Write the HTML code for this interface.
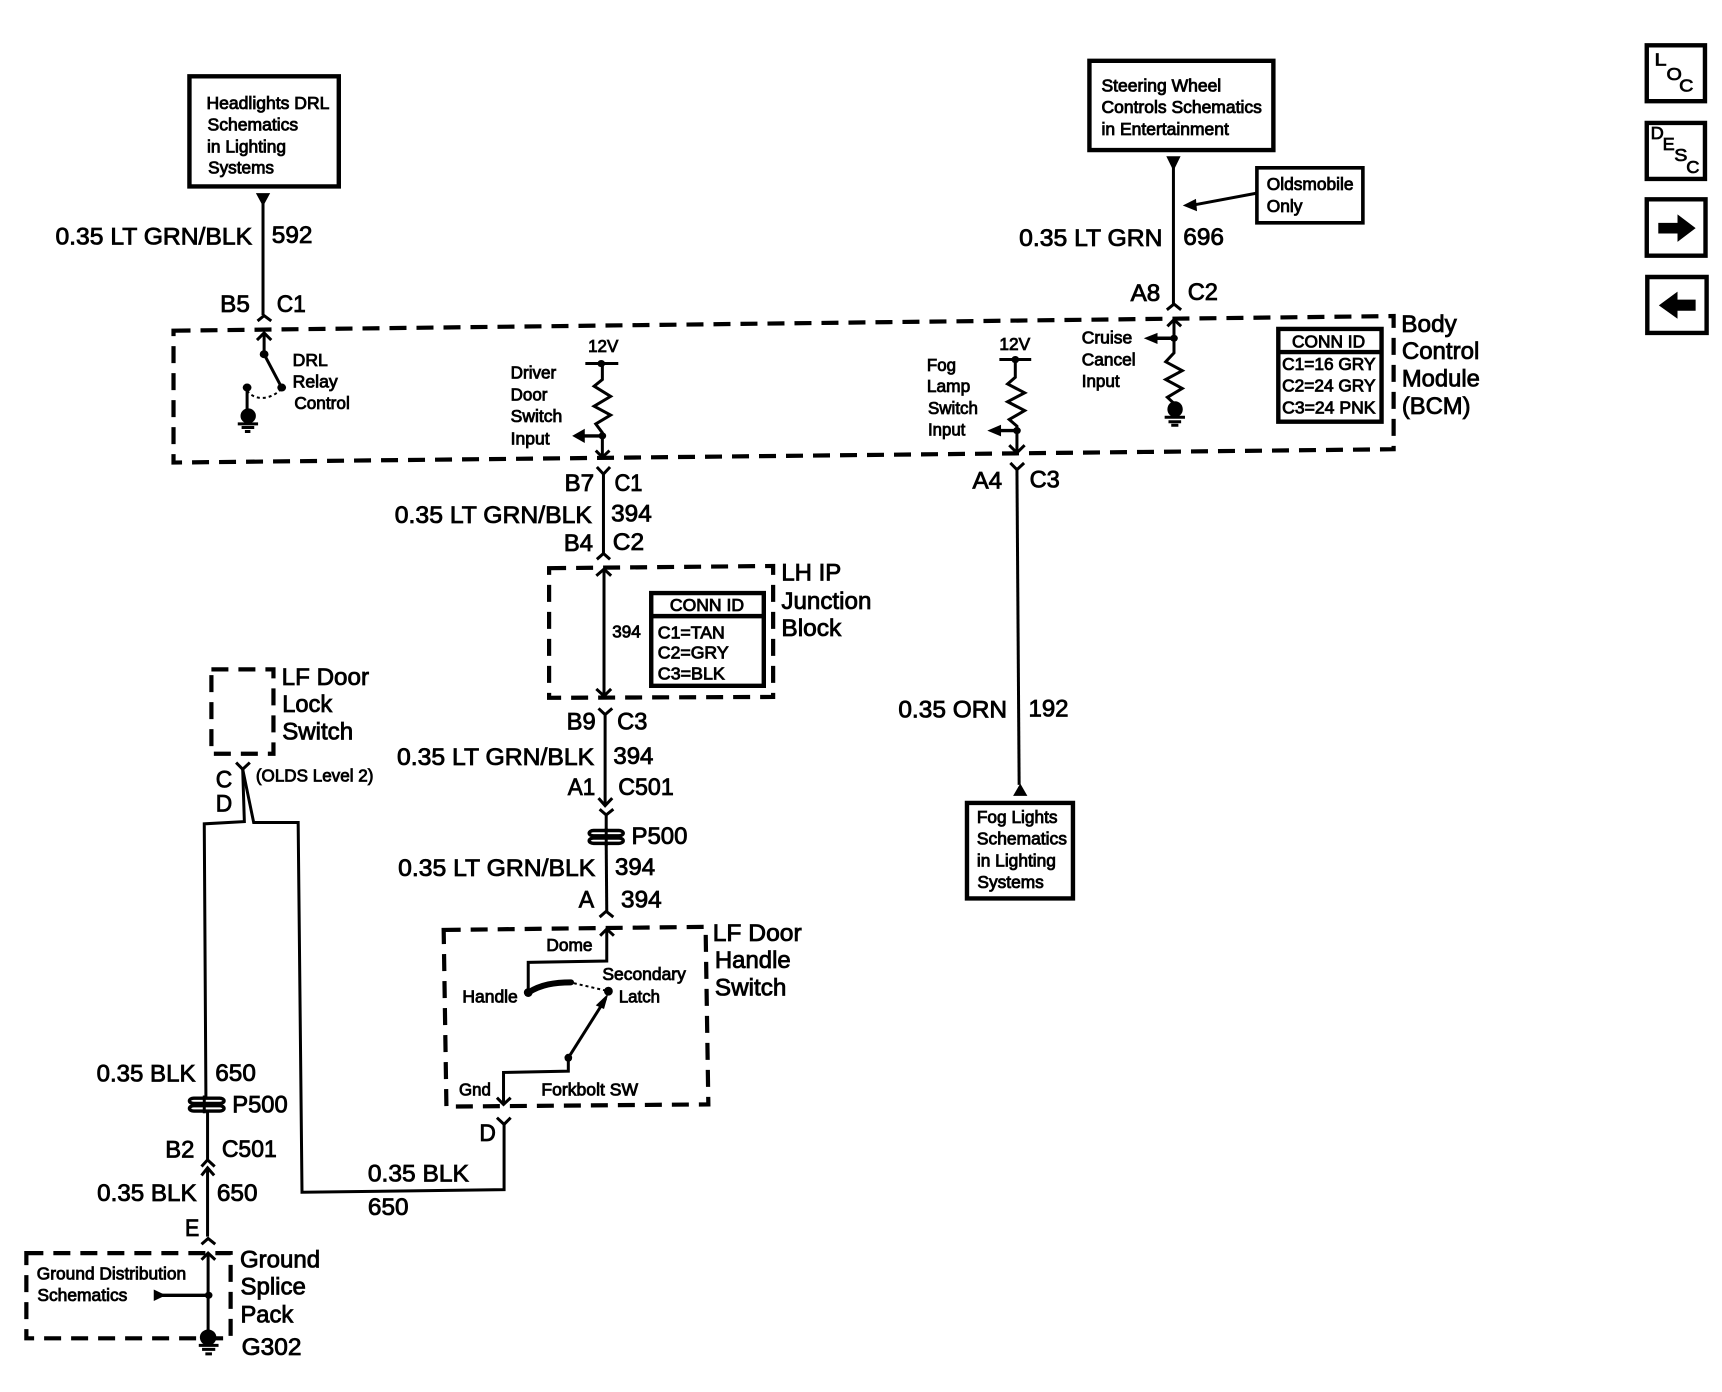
<!DOCTYPE html>
<html><head><meta charset="utf-8"><style>
html,body{margin:0;padding:0;background:#fff}
svg{display:block}
text{font-family:"Liberation Sans",sans-serif;fill:#000;stroke:#000;stroke-width:1.9px;transform:translateY(-2px)}
.l{font-size:55px}.m{font-size:39px}
path,rect,line,polyline{fill:none;stroke:#000;stroke-width:3px;vector-effect:non-scaling-stroke}
.b{stroke-width:4.4px}
.d{stroke-width:4.2px;stroke-dasharray:17 10}
.t{stroke-width:6px;stroke-linecap:round}
.o{stroke-width:2px;stroke-dasharray:3 3}
polygon,ellipse{fill:#000;stroke:none}
.w{fill:#fff;stroke:#000;stroke-width:3.4px;vector-effect:non-scaling-stroke}
</style></head><body>
<svg width="1722" height="1392" viewBox="0 0 1722 1392" xmlns="http://www.w3.org/2000/svg">
<rect x="0" y="0" width="1722" height="1392" style="fill:#fff;stroke:none"/>

<g transform="scale(.5491 .4439)">
<rect class="b" x="345" y="172" width="272" height="248"/>
<text class="m" x="376" y="248" textLength="224" lengthAdjust="spacingAndGlyphs">Headlights DRL</text>
<text class="m" x="378" y="296" textLength="165" lengthAdjust="spacingAndGlyphs">Schematics</text>
<text class="m" x="377" y="345" textLength="144" lengthAdjust="spacingAndGlyphs">in Lighting</text>
<text class="m" x="379" y="393" textLength="120" lengthAdjust="spacingAndGlyphs">Systems</text>
<polygon points="466,435 492,435 479,465"/>
<path d="M479 440V710"/>
<text class="l" x="101" y="553" textLength="358" lengthAdjust="spacingAndGlyphs">0.35 LT GRN/BLK</text>
<text class="l" x="495" y="550" textLength="74" lengthAdjust="spacingAndGlyphs">592</text>
<text class="l" x="401" y="705" textLength="54" lengthAdjust="spacingAndGlyphs">B5</text>
<text class="l" x="504" y="705" textLength="53" lengthAdjust="spacingAndGlyphs">C1</text>
<polyline points="469,723 481,711 494,723"/>

<path class="d" d="M316 745L2538 712V1012L316 1042Z"/>

<polyline points="468,766 481,750 494,766"/>
<path d="M481 750V798L513 873"/>
<ellipse cx="481" cy="798" rx="8" ry="9"/><ellipse cx="513" cy="873" rx="8" ry="9"/><ellipse cx="450" cy="873" rx="8" ry="9"/>
<path class="o" d="M450 880C465 905 495 900 513 875"/>
<path d="M450 873V925"/>
<ellipse cx="452" cy="937" rx="14" ry="17"/>
<path d="M433 955H470M440 963H463M446 972H456"/>
<text class="m" x="533" y="826" textLength="64" lengthAdjust="spacingAndGlyphs">DRL</text>
<text class="m" x="533" y="875" textLength="82" lengthAdjust="spacingAndGlyphs">Relay</text>
<text class="m" x="536" y="923" textLength="101" lengthAdjust="spacingAndGlyphs">Control</text>

<text class="m" x="1071" y="795" textLength="55" lengthAdjust="spacingAndGlyphs">12V</text>
<path d="M1066 819H1126"/>
<ellipse cx="1095" cy="819" rx="7" ry="8"/>
<polyline points="1097,819 1097,855 1082,870 1112,893 1082,915 1112,935 1085,955 1097,975 1097,1030"/>
<ellipse cx="1097" cy="982" rx="7" ry="8"/>
<path d="M1097 982H1060" style="stroke-width:3.4px"/>
<polygon points="1042,982 1065,966 1065,998"/>
<polyline points="1085,1015 1097,1030 1110,1015"/>
<text class="m" x="930" y="855" textLength="83" lengthAdjust="spacingAndGlyphs">Driver</text>
<text class="m" x="930" y="904" textLength="67" lengthAdjust="spacingAndGlyphs">Door</text>
<text class="m" x="930" y="953" textLength="94" lengthAdjust="spacingAndGlyphs">Switch</text>
<text class="m" x="930" y="1003" textLength="71" lengthAdjust="spacingAndGlyphs">Input</text>

<polyline points="1087,1052 1099,1068 1111,1052"/>
<path d="M1099 1068V1247"/>
<polyline points="1087,1260 1099,1247 1111,1260"/>
<text class="l" x="1028" y="1108" textLength="54" lengthAdjust="spacingAndGlyphs">B7</text>
<text class="l" x="1119" y="1108" textLength="51" lengthAdjust="spacingAndGlyphs">C1</text>
<text class="l" x="719" y="1180" textLength="359" lengthAdjust="spacingAndGlyphs">0.35 LT GRN/BLK</text>
<text class="l" x="1113" y="1177" textLength="74" lengthAdjust="spacingAndGlyphs">394</text>
<text class="l" x="1027" y="1243" textLength="53" lengthAdjust="spacingAndGlyphs">B4</text>
<text class="l" x="1116" y="1241" textLength="57" lengthAdjust="spacingAndGlyphs">C2</text>

<path class="d" d="M1000 1280L1408 1275V1570L1000 1572Z"/>
<polyline points="1086,1297 1100,1282 1113,1297"/>
<path d="M1100 1282V1568"/>
<polyline points="1086,1552 1100,1568 1113,1552"/>
<text class="m" x="1115" y="1438" textLength="52" lengthAdjust="spacingAndGlyphs">394</text>
<rect class="b" x="1186" y="1336" width="205" height="209"/>
<path class="b" d="M1186 1388H1391"/>
<text class="m" x="1220" y="1378" textLength="135" lengthAdjust="spacingAndGlyphs">CONN ID</text>
<text class="m" x="1198" y="1440" textLength="122" lengthAdjust="spacingAndGlyphs">C1=TAN</text>
<text class="m" x="1198" y="1486" textLength="129" lengthAdjust="spacingAndGlyphs">C2=GRY</text>
<text class="m" x="1198" y="1533" textLength="122" lengthAdjust="spacingAndGlyphs">C3=BLK</text>
<text class="l" x="1423" y="1310" textLength="109" lengthAdjust="spacingAndGlyphs">LH IP</text>
<text class="l" x="1423" y="1374" textLength="164" lengthAdjust="spacingAndGlyphs">Junction</text>
<text class="l" x="1423" y="1435" textLength="109" lengthAdjust="spacingAndGlyphs">Block</text>

<path class="d" d="M385 1508H498V1698H385Z"/>
<text class="l" x="513" y="1545" textLength="159" lengthAdjust="spacingAndGlyphs">LF Door</text>
<text class="l" x="514" y="1606" textLength="91" lengthAdjust="spacingAndGlyphs">Lock</text>
<text class="l" x="514" y="1668" textLength="129" lengthAdjust="spacingAndGlyphs">Switch</text>
</g>

<g transform="translate(861 0) scale(.5491 .4439)">
<rect class="b" x="416" y="137" width="335" height="201"/>
<text class="m" x="438" y="208" textLength="218" lengthAdjust="spacingAndGlyphs">Steering Wheel</text>
<text class="m" x="438" y="257" textLength="292" lengthAdjust="spacingAndGlyphs">Controls Schematics</text>
<text class="m" x="438" y="306" textLength="232" lengthAdjust="spacingAndGlyphs">in Entertainment</text>
<polygon points="556,352 582,352 569,385"/>
<path d="M569 360V685"/>
<polyline points="557,698 570,685 583,698"/>
<rect x="721" y="378" width="193" height="124" style="stroke-width:3.6px"/>
<text class="m" x="739" y="430" textLength="158" lengthAdjust="spacingAndGlyphs">Oldsmobile</text>
<text class="m" x="739" y="480" textLength="65" lengthAdjust="spacingAndGlyphs">Only</text>
<path d="M721 435L605 462"/>
<polygon points="586,463 610,448 612,476"/>
<text class="l" x="288" y="556" textLength="261" lengthAdjust="spacingAndGlyphs">0.35 LT GRN</text>
<text class="l" x="587" y="554" textLength="74" lengthAdjust="spacingAndGlyphs">696</text>
<text class="l" x="491" y="680" textLength="54" lengthAdjust="spacingAndGlyphs">A8</text>
<text class="l" x="595" y="678" textLength="55" lengthAdjust="spacingAndGlyphs">C2</text>

<polyline points="558,735 570,720 583,735"/>
<polyline points="570,720 570,795 555,815 585,835 555,855 585,875 558,895 571,910"/>
<ellipse cx="570" cy="762" rx="7" ry="8"/>
<path d="M570 762H535" style="stroke-width:3.4px"/>
<polygon points="515,762 540,750 540,775"/>
<ellipse cx="572" cy="922" rx="14" ry="18"/>
<path d="M553 940H590M560 950H583M565 958H578"/>
<text class="m" x="402" y="776" textLength="92" lengthAdjust="spacingAndGlyphs">Cruise</text>
<text class="m" x="402" y="825" textLength="98" lengthAdjust="spacingAndGlyphs">Cancel</text>
<text class="m" x="402" y="874" textLength="69" lengthAdjust="spacingAndGlyphs">Input</text>

<text class="m" x="252" y="790" textLength="56" lengthAdjust="spacingAndGlyphs">12V</text>
<path d="M252 810H310"/>
<ellipse cx="281" cy="810" rx="7" ry="8"/>
<polyline points="281,810 281,850 267,865 298,885 267,905 298,925 270,945 284,960 284,1020"/>
<ellipse cx="284" cy="970" rx="7" ry="8"/>
<path d="M284 970H250" style="stroke-width:3.4px"/>
<polygon points="230,970 255,957 255,983"/>
<polyline points="270,1003 284,1020 298,1003"/>
<text class="m" x="120" y="838" textLength="53" lengthAdjust="spacingAndGlyphs">Fog</text>
<text class="m" x="120" y="885" textLength="79" lengthAdjust="spacingAndGlyphs">Lamp</text>
<text class="m" x="122" y="935" textLength="91" lengthAdjust="spacingAndGlyphs">Switch</text>
<text class="m" x="122" y="983" textLength="68" lengthAdjust="spacingAndGlyphs">Input</text>
<polyline points="272,1043 284,1058 297,1043"/>
<path d="M284 1058L288 1768"/>
<text class="l" x="203" y="1102" textLength="54" lengthAdjust="spacingAndGlyphs">A4</text>
<text class="l" x="307" y="1100" textLength="55" lengthAdjust="spacingAndGlyphs">C3</text>

<rect class="b" x="760" y="741" width="188" height="209"/>
<path class="b" d="M760 793H948"/>
<text class="m" x="785" y="785" textLength="133" lengthAdjust="spacingAndGlyphs">CONN ID</text>
<text class="m" x="767" y="835" textLength="170" lengthAdjust="spacingAndGlyphs">C1=16 GRY</text>
<text class="m" x="767" y="884" textLength="170" lengthAdjust="spacingAndGlyphs">C2=24 GRY</text>
<text class="m" x="767" y="933" textLength="170" lengthAdjust="spacingAndGlyphs">C3=24 PNK</text>
<text class="l" x="984" y="750" textLength="101" lengthAdjust="spacingAndGlyphs">Body</text>
<text class="l" x="985" y="811" textLength="141" lengthAdjust="spacingAndGlyphs">Control</text>
<text class="l" x="985" y="873" textLength="142" lengthAdjust="spacingAndGlyphs">Module</text>
<text class="l" x="985" y="935" textLength="125" lengthAdjust="spacingAndGlyphs">(BCM)</text>

<rect class="b" x="1431" y="102" width="106" height="126"/>
<text class="m" x="1445" y="150" textLength="22" lengthAdjust="spacingAndGlyphs" style="stroke-width:1.6px">L</text>
<text class="m" x="1467" y="182" textLength="28" lengthAdjust="spacingAndGlyphs" style="stroke-width:1.6px">O</text>
<text class="m" x="1490" y="208" textLength="26" lengthAdjust="spacingAndGlyphs" style="stroke-width:1.6px">C</text>
<rect class="b" x="1431" y="277" width="106" height="126"/>
<text class="m" x="1438" y="315" textLength="24" lengthAdjust="spacingAndGlyphs" style="stroke-width:1.6px">D</text>
<text class="m" x="1460" y="340" textLength="22" lengthAdjust="spacingAndGlyphs" style="stroke-width:1.6px">E</text>
<text class="m" x="1481" y="365" textLength="24" lengthAdjust="spacingAndGlyphs" style="stroke-width:1.6px">S</text>
<text class="m" x="1503" y="392" textLength="24" lengthAdjust="spacingAndGlyphs" style="stroke-width:1.6px">C</text>
<rect class="b" x="1431" y="449" width="107" height="127"/>
<polygon points="1452,502 1487,502 1487,483 1520,514 1487,545 1487,526 1452,526"/>
<rect class="b" x="1432" y="624" width="108" height="126"/>
<polygon points="1520,675 1487,675 1487,657 1453,688 1487,718 1487,700 1520,700"/>
</g>

<g transform="translate(0 696) scale(.5491 .4439)">
<polyline points="430,150 442,165 455,150"/>
<polyline points="442,165 445,283 372,288 375,905"/>
<polyline points="442,165 462,285 543,285 550,1118 918,1112 918,965"/>
<polyline points="905,950 918,965 930,950"/>
<text class="l" x="393" y="208" textLength="30" lengthAdjust="spacingAndGlyphs">C</text>
<text class="l" x="393" y="262" textLength="30" lengthAdjust="spacingAndGlyphs">D</text>
<text class="m" x="466" y="195" textLength="214" lengthAdjust="spacingAndGlyphs">(OLDS Level 2)</text>

<rect class="w" x="345" y="906" width="63" height="12" rx="8"/>
<rect class="w" x="345" y="923" width="63" height="12" rx="8"/>
<path d="M372 900V940"/>
<text class="l" x="176" y="870" textLength="180" lengthAdjust="spacingAndGlyphs">0.35 BLK</text>
<text class="l" x="392" y="869" textLength="74" lengthAdjust="spacingAndGlyphs">650</text>
<text class="l" x="423" y="940" textLength="101" lengthAdjust="spacingAndGlyphs">P500</text>
<path d="M378 936V1045"/>
<text class="l" x="301" y="1042" textLength="53" lengthAdjust="spacingAndGlyphs">B2</text>
<text class="l" x="404" y="1040" textLength="100" lengthAdjust="spacingAndGlyphs">C501</text>
<polyline points="367,1060 378,1045 391,1060"/>
<polyline points="367,1080 378,1063 390,1080"/>
<path d="M378 1063V1218"/>
<text class="l" x="177" y="1140" textLength="181" lengthAdjust="spacingAndGlyphs">0.35 BLK</text>
<text class="l" x="395" y="1140" textLength="74" lengthAdjust="spacingAndGlyphs">650</text>
<text class="l" x="337" y="1218" textLength="26" lengthAdjust="spacingAndGlyphs">E</text>
<polyline points="367,1235 379,1222 392,1235"/>

<path class="d" d="M48 1255H420V1447H48Z"/>
<polyline points="367,1270 379,1255 392,1270"/>
<path d="M379 1255V1440"/>
<ellipse cx="380" cy="1350" rx="7" ry="8"/>
<path d="M290 1350H380" style="stroke-width:3.4px"/>
<polygon points="280,1337 280,1363 302,1350"/>
<ellipse cx="379" cy="1445" rx="15" ry="18"/>
<path d="M362 1463H398M368 1472H392M374 1482H386"/>
<text class="m" x="67" y="1316" textLength="272" lengthAdjust="spacingAndGlyphs">Ground Distribution</text>
<text class="m" x="68" y="1365" textLength="164" lengthAdjust="spacingAndGlyphs">Schematics</text>
<text class="l" x="437" y="1289" textLength="146" lengthAdjust="spacingAndGlyphs">Ground</text>
<text class="l" x="438" y="1350" textLength="119" lengthAdjust="spacingAndGlyphs">Splice</text>
<text class="l" x="438" y="1413" textLength="96" lengthAdjust="spacingAndGlyphs">Pack</text>
<text class="l" x="440" y="1487" textLength="109" lengthAdjust="spacingAndGlyphs">G302</text>

<text class="l" x="1032" y="78" textLength="53" lengthAdjust="spacingAndGlyphs">B9</text>
<text class="l" x="1124" y="78" textLength="55" lengthAdjust="spacingAndGlyphs">C3</text>
<polyline points="1090,28 1102,42 1115,28"/>
<path d="M1102 42V247"/>
<polyline points="1090,230 1102,247 1115,230"/>
<polyline points="1092,255 1104,268 1117,255"/>
<path d="M1104 268V305"/>
<rect class="w" x="1073" y="303" width="62" height="12" rx="8"/>
<rect class="w" x="1073" y="320" width="62" height="12" rx="8"/>
<path d="M1104 298V338"/>
<path d="M1104 332L1105 485"/>
<polyline points="1092,498 1104,485 1117,498"/>
<text class="l" x="723" y="158" textLength="359" lengthAdjust="spacingAndGlyphs">0.35 LT GRN/BLK</text>
<text class="l" x="1117" y="155" textLength="73" lengthAdjust="spacingAndGlyphs">394</text>
<text class="l" x="1034" y="225" textLength="50" lengthAdjust="spacingAndGlyphs">A1</text>
<text class="l" x="1126" y="225" textLength="101" lengthAdjust="spacingAndGlyphs">C501</text>
<text class="l" x="1150" y="335" textLength="102" lengthAdjust="spacingAndGlyphs">P500</text>
<text class="l" x="725" y="408" textLength="359" lengthAdjust="spacingAndGlyphs">0.35 LT GRN/BLK</text>
<text class="l" x="1120" y="405" textLength="73" lengthAdjust="spacingAndGlyphs">394</text>
<text class="l" x="1054" y="479" textLength="28" lengthAdjust="spacingAndGlyphs">A</text>
<text class="l" x="1131" y="478" textLength="74" lengthAdjust="spacingAndGlyphs">394</text>

<path class="d" d="M808 527L1285 520L1290 920L813 925Z"/>
<polyline points="1093,540 1105,525 1118,540"/>
<polyline points="1105,525 1105,597 962,600 962,668"/>
<path class="t" d="M962 668C985 650 1010 645 1040 645"/>
<ellipse cx="962" cy="668" rx="8" ry="10"/>
<path class="o" d="M1045 647L1108 665"/>
<ellipse cx="1108" cy="665" rx="8" ry="10"/>
<path d="M1035 815L1103 682"/>
<polygon points="1108,670 1100,705 1085,697"/>
<ellipse cx="1035" cy="815" rx="7" ry="9"/>
<polyline points="1035,815 1035,845 917,848 917,920"/>
<polyline points="905,905 917,920 930,905"/>
<text class="m" x="995" y="576" textLength="84" lengthAdjust="spacingAndGlyphs">Dome</text>
<text class="m" x="842" y="693" textLength="101" lengthAdjust="spacingAndGlyphs">Handle</text>
<text class="m" x="1097" y="642" textLength="152" lengthAdjust="spacingAndGlyphs">Secondary</text>
<text class="m" x="1127" y="692" textLength="75" lengthAdjust="spacingAndGlyphs">Latch</text>
<text class="m" x="836" y="902" textLength="58" lengthAdjust="spacingAndGlyphs">Gnd</text>
<text class="m" x="986" y="902" textLength="176" lengthAdjust="spacingAndGlyphs">Forkbolt SW</text>
<text class="l" x="1298" y="554" textLength="162" lengthAdjust="spacingAndGlyphs">LF Door</text>
<text class="l" x="1302" y="615" textLength="138" lengthAdjust="spacingAndGlyphs">Handle</text>
<text class="l" x="1302" y="677" textLength="130" lengthAdjust="spacingAndGlyphs">Switch</text>
<text class="l" x="873" y="1005" textLength="30" lengthAdjust="spacingAndGlyphs">D</text>
<text class="l" x="670" y="1096" textLength="184" lengthAdjust="spacingAndGlyphs">0.35 BLK</text>
<text class="l" x="670" y="1171" textLength="74" lengthAdjust="spacingAndGlyphs">650</text>
</g>

<g transform="translate(861 696) scale(.5491 .4439)">
<text class="l" x="68" y="50" textLength="198" lengthAdjust="spacingAndGlyphs">0.35 ORN</text>
<text class="l" x="305" y="48" textLength="73" lengthAdjust="spacingAndGlyphs">192</text>
<polygon points="277,225 303,225 290,197"/>
<rect class="b" x="193" y="241" width="193" height="215"/>
<text class="m" x="211" y="288" textLength="147" lengthAdjust="spacingAndGlyphs">Fog Lights</text>
<text class="m" x="211" y="337" textLength="164" lengthAdjust="spacingAndGlyphs">Schematics</text>
<text class="m" x="211" y="386" textLength="144" lengthAdjust="spacingAndGlyphs">in Lighting</text>
<text class="m" x="212" y="434" textLength="121" lengthAdjust="spacingAndGlyphs">Systems</text>
</g>
</svg>
</body></html>
